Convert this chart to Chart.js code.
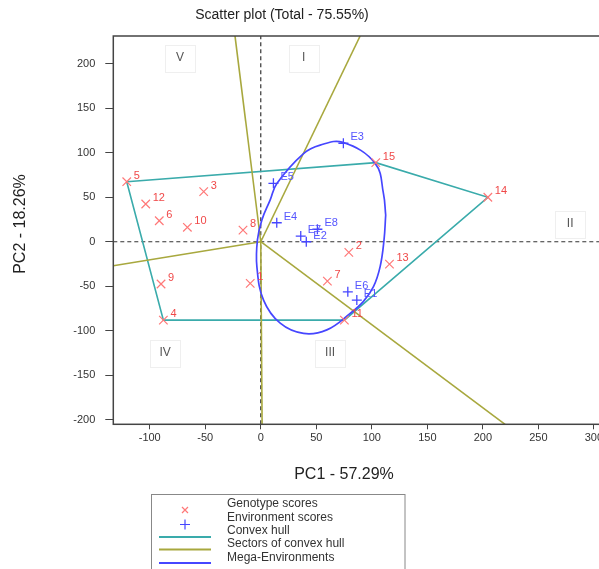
<!DOCTYPE html>
<html>
<head>
<meta charset="utf-8">
<script src="https://cdn.jsdelivr.net/npm/chart.js@4/dist/chart.umd.min.js"></script>
<style>
html, body { margin: 0; padding: 0; background: #fff; overflow: hidden; }
#wrap { width: 640px; height: 569px; }
</style>
</head>
<body>
<div id="wrap"><canvas id="gge" width="640" height="569"></canvas></div>
<script>
'use strict';

// genotype scores (PC1, PC2)
var genoNames = ['1', '2', '3', '4', '5', '6', '7', '8', '9', '10', '11', '12', '13', '14', '15'];
var genoPC1 = [-9.5, 79.3, -51.4, -87.7, -120.7, -91.4, 60, -16, -89.8, -66.1, 75.3, -103.6, 115.9, 204.5, 103.6];
var genoPC2 = [-46.8, -11.9, 56.2, -88, 67.4, 23.6, -44.2, 13, -47.5, 16.2, -88, 42.4, -25.1, 49.9, 88.8];

// environment scores (PC1, PC2)
var envNames = ['E1', 'E2', 'E3', 'E4', 'E5', 'E6', 'E7', 'E8'];
var envPC1 = [86.5, 41, 74.4, 14.4, 11.4, 78.4, 36, 51];
var envPC2 = [-65.5, 0, 110.6, 21.3, 65.6, -56.2, 6.4, 14];

// convex hull vertices, by genotype name
var hullOrder = ['5', '15', '14', '11', '4', '5'];

// sector rays, from the origin to the frame
var rayPC1 = [-23.2, 89.5, 220, 1.2, -132.8];
var rayPC2 = [231, 231, -205, -205, -27];

// mega-environment outline
var megaPC1 = [112.5, 111, 107.5, 101.5, 92.5, 80.5, 59.5, 38.5, 17.5, 2.5, -3.5, -3, 1, 8.5, 14.5, 38.5, 53.5, 74, 103, 110.5, 112.5];
var megaPC2 = [30, 2, -28, -50.5, -67, -80.5, -99, -103, -91.5, -65.5, -28, 2, 24.5, 47, 65.5, 99, 108.5, 111.5, 88, 54, 30];

// sector names
var sectorNames = ['V', 'I', 'II', 'III', 'IV'];
var sectorPC1 = [-72.7, 38.6, 278.6, 62.4, -86.2];
var sectorPC2 = [206.4, 206.4, 19.9, -124.4, -124.4];

var xMin = -132.8, xMax = 310;
var yMin = -205, yMax = 231;

var FONT = '"Liberation Sans", Arial, sans-serif';
var RED = '#ff7878', RED_TXT = '#f04848';
var BLUE = '#4646ff', BLUE_TXT = '#5555ff';
var TEAL = '#3aabab', OLIVE = '#a8a83e';

function pts(xs, ys) {
  return xs.map(function (x, i) { return { x: x, y: ys[i] }; });
}

var hullPts = hullOrder.map(function (n) {
  var i = genoNames.indexOf(n);
  return { x: genoPC1[i], y: genoPC2[i] };
});

var datasets = [
  {
    label: 'Genotype scores', data: pts(genoPC1, genoPC2), names: genoNames, txt: RED_TXT,
    pointStyle: 'crossRot', pointRadius: 6, borderColor: RED, backgroundColor: RED, pointBorderWidth: 1.2
  },
  {
    label: 'Environment scores', data: pts(envPC1, envPC2), names: envNames, txt: BLUE_TXT,
    pointStyle: 'cross', pointRadius: 5, borderColor: BLUE, backgroundColor: BLUE, pointBorderWidth: 1.3
  },
  {
    label: 'Mega-Environments', data: pts(megaPC1, megaPC2), showLine: true, tension: 0.4,
    pointRadius: 0, borderColor: BLUE, borderWidth: 1.7
  }
];

rayPC1.forEach(function (x, i) {
  datasets.push({
    label: 'Sectors of convex hull', data: [{ x: 0, y: 0 }, { x: x, y: rayPC2[i] }], showLine: true,
    pointRadius: 0, borderColor: OLIVE, borderWidth: 1.6
  });
});

datasets.push({
  label: 'Convex hull', data: hullPts, showLine: true, pointRadius: 0,
  borderColor: TEAL, borderWidth: 1.6
});

// dashed axes through the origin
datasets.push({
  label: 'axis x', data: [{ x: xMin, y: 0 }, { x: xMax, y: 0 }], showLine: true, pointRadius: 0,
  borderColor: '#333', borderWidth: 1.2, borderDash: [4, 3]
});
datasets.push({
  label: 'axis y', data: [{ x: 0, y: yMin }, { x: 0, y: yMax }], showLine: true, pointRadius: 0,
  borderColor: '#333', borderWidth: 1.2, borderDash: [4, 3]
});

var overlay = {
  id: 'overlay',
  afterDatasetsDraw: function (chart) {
    var ctx = chart.ctx, a = chart.chartArea;
    var xs = chart.scales.x, ys = chart.scales.y;
    ctx.save();

    // frame
    ctx.strokeStyle = '#444';
    ctx.lineWidth = 1.5;
    ctx.strokeRect(a.left, a.top, a.right - a.left, a.bottom - a.top);

    // sector names in faint boxes
    ctx.font = '12px ' + FONT;
    ctx.textAlign = 'center';
    ctx.textBaseline = 'middle';
    sectorNames.forEach(function (s, i) {
      var px = xs.getPixelForValue(sectorPC1[i]), py = ys.getPixelForValue(sectorPC2[i]);
      ctx.strokeStyle = '#efefef';
      ctx.lineWidth = 1;
      ctx.strokeRect(Math.round(px - 15) + 0.5, Math.round(py - 13) + 0.5, 30, 27);
      ctx.fillStyle = '#555';
      ctx.fillText(s, px, py);
    });

    // point labels
    ctx.font = '11px ' + FONT;
    ctx.textAlign = 'left';
    [0, 1].forEach(function (di) {
      var ds = chart.data.datasets[di];
      var meta = chart.getDatasetMeta(di);
      ctx.fillStyle = ds.txt;
      meta.data.forEach(function (el, j) {
        ctx.fillText(ds.names[j], el.x + 7, el.y - 6);
      });
    });
    ctx.restore();
  },
  afterDraw: function (chart) {
    var ctx = chart.ctx;
    ctx.save();
    ctx.fillStyle = '#222';
    ctx.textAlign = 'center';
    ctx.textBaseline = 'middle';
    ctx.font = '14px ' + FONT;
    ctx.fillText('Scatter plot (Total - 75.55%)', 282, 15);
    ctx.font = '16px ' + FONT;
    ctx.fillText('PC1 - 57.29%', 344, 475);
    ctx.save();
    ctx.translate(21, 224);
    ctx.rotate(-Math.PI / 2);
    ctx.fillText('PC2 - 18.26%', 0, 0);
    ctx.restore();

    // legend
    ctx.strokeStyle = '#888';
    ctx.lineWidth = 1;
    ctx.strokeRect(151.5, 494.5, 253.5, 100);
    ctx.font = '12px ' + FONT;
    ctx.textAlign = 'left';
    ctx.fillStyle = '#333';
    var rows = ['Genotype scores', 'Environment scores', 'Convex hull', 'Sectors of convex hull', 'Mega-Environments'];
    var rowY = [504, 517.5, 531, 544, 557.5];
    rows.forEach(function (r, i) { ctx.fillText(r, 227, rowY[i]); });

    ctx.lineWidth = 1.2;
    ctx.strokeStyle = RED;
    ctx.beginPath();
    ctx.moveTo(182, 507); ctx.lineTo(188, 513);
    ctx.moveTo(188, 507); ctx.lineTo(182, 513);
    ctx.stroke();
    ctx.strokeStyle = BLUE;
    ctx.beginPath();
    ctx.moveTo(180, 524.5); ctx.lineTo(190, 524.5);
    ctx.moveTo(185, 519.5); ctx.lineTo(185, 529.5);
    ctx.stroke();

    ctx.lineWidth = 2;
    [[TEAL, 537], [OLIVE, 549.5], [BLUE, 563]].forEach(function (l) {
      ctx.strokeStyle = l[0];
      ctx.beginPath();
      ctx.moveTo(159, l[1]); ctx.lineTo(211, l[1]);
      ctx.stroke();
    });
    ctx.restore();
  }
};

new Chart('gge', {
  type: 'scatter',
  data: { datasets: datasets },
  options: {
    responsive: false,
    animation: false,
    events: [],
    layout: { padding: { top: 36, left: 0, right: 35, bottom: 74.7 } },
    plugins: { legend: { display: false }, tooltip: { enabled: false }, title: { display: false } },
    scales: {
      x: {
        type: 'linear', min: xMin, max: xMax,
        afterFit: function (s) { s.height = 70; },
        border: { display: false },
        grid: { drawOnChartArea: false, drawTicks: true, tickLength: 5, color: '#444' },
        ticks: { stepSize: 50, includeBounds: false, padding: 2, maxRotation: 0, color: '#333', font: { size: 11, family: FONT } }
      },
      y: {
        type: 'linear', min: yMin, max: yMax,
        afterFit: function (s) { s.width = 113.3; },
        border: { display: false },
        grid: { drawOnChartArea: false, drawTicks: true, tickLength: 8, color: '#444' },
        ticks: { stepSize: 50, includeBounds: false, padding: 10, color: '#333', font: { size: 11, family: FONT } }
      }
    }
  },
  plugins: [overlay]
});
</script>
</body>
</html>
